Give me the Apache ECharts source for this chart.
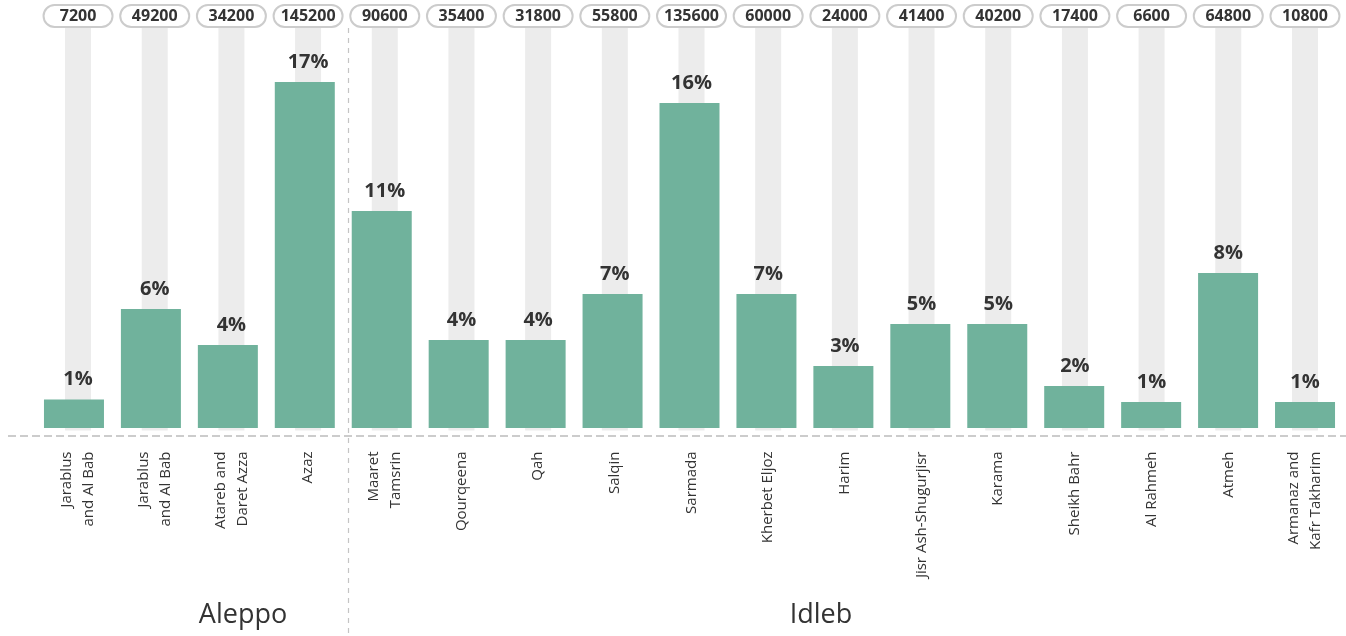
<!DOCTYPE html>
<html>
<head>
<meta charset="utf-8">
<title>Households by district</title>
<script src="https://cdn.jsdelivr.net/npm/echarts@6/dist/echarts.min.js"></script>
<style>
  html, body { margin: 0; padding: 0; background: #fff; }
  #chart { width: 1346px; height: 636px; }
</style>
</head>
<body>
<div id="chart"></div>
<script>
// District names (sub-districts of Aleppo and Idleb governorates)
const districts = [
  'Jarablus\nand Al Bab', 'Jarablus\nand Al Bab', 'Atareb and\nDaret Azza', 'Azaz',
  'Maaret\nTamsrin', 'Qourqeena', 'Qah', 'Salqin', 'Sarmada', 'Kherbet Eljoz',
  'Harim', 'Jisr Ash-Shugurjisr', 'Karama', 'Sheikh Bahr', 'Al Rahmeh', 'Atmeh',
  'Armanaz and\nKafr Takharim'
];

// Households counted per district (shown in the pills on top)
const households = [
  7200, 49200, 34200, 145200, 90600, 35400, 31800, 55800, 135600, 60000,
  24000, 41400, 40200, 17400, 6600, 64800, 10800
];

// Share of the total, in percent (bar heights; labels show them rounded)
const sharePct = [
  1.4, 5.85, 4.08, 17.0, 10.66, 4.32, 4.32, 6.58, 15.97, 6.58,
  3.05, 5.11, 5.11, 2.06, 1.28, 7.62, 1.28
];

// Governorate captions under the district names
const regions = ['Aleppo', 'Idleb'];

const GREEN = '#70b29c';
const TRACK = '#ececec';
const INK = '#333333';
const SANS = "'Open Sans', 'DejaVu Sans', sans-serif";

// Two grids: one for the green bars, one for the grey tracks,
// value labels, district names and household pills.
const Y_MAX = 20;
const gridBars = { left: 35.5, right: 2.5, top: 21, bottom: 208 };
const gridTracks = { left: 39.7, right: 2.7, top: 28, bottom: 205.5 };
const H = 636;
const pxPerPct = (H - gridBars.top - gridBars.bottom) / Y_MAX;
// Value axis of the track grid shares the scale and the zero line of the bar grid
const trackMin = -(gridBars.bottom - gridTracks.bottom) / pxPerPct;
const trackMax = trackMin + (H - gridTracks.top - gridTracks.bottom) / pxPerPct;

const chart = echarts.init(document.getElementById('chart'), null, { renderer: 'canvas' });

chart.setOption({
  animation: false,
  backgroundColor: '#ffffff',
  grid: [
    Object.assign({ containLabel: false }, gridBars),
    Object.assign({ containLabel: false }, gridTracks)
  ],
  xAxis: [
    {
      gridIndex: 0, type: 'category', data: districts, show: false
    },
    {
      gridIndex: 1, type: 'category', data: districts, position: 'bottom',
      axisLine: { show: false }, axisTick: { show: false },
      axisLabel: {
        interval: 0, rotate: 90, margin: 21,
        fontFamily: SANS, fontSize: 15, lineHeight: 22, color: INK
      }
    },
    {
      gridIndex: 1, type: 'category', data: households.map(String), position: 'top',
      axisLine: { show: false }, axisTick: { show: false },
      axisLabel: {
        interval: 0, margin: 2,
        fontFamily: SANS, fontWeight: 'bold', fontSize: 16, lineHeight: 16, color: INK,
        backgroundColor: '#ffffff', borderColor: '#cccccc', borderWidth: 2,
        borderRadius: 10, padding: [2, 3, 2, 3], width: 61, align: 'center'
      }
    }
  ],
  yAxis: [
    { gridIndex: 0, type: 'value', min: 0, max: Y_MAX, show: false },
    { gridIndex: 1, type: 'value', min: trackMin, max: trackMax, show: false }
  ],
  series: [
    {
      // grey tracks with the rounded percentage above each bar
      type: 'bar', xAxisIndex: 1, yAxisIndex: 1, z: 2,
      data: sharePct, barWidth: 26,
      showBackground: true,
      backgroundStyle: { color: TRACK },
      itemStyle: { color: 'rgba(0,0,0,0)' },
      label: {
        show: true, position: 'top', distance: 10,
        fontFamily: SANS, fontWeight: 'bold', fontSize: 20, color: INK,
        formatter: p => Math.round(p.value) + '%'
      },
      silent: true
    },
    {
      type: 'bar', xAxisIndex: 0, yAxisIndex: 0, z: 3,
      data: sharePct, barWidth: 60,
      itemStyle: { color: GREEN }
    }
  ],
  graphic: [
    {
      type: 'line', z: 1, silent: true,
      shape: { x1: 8, y1: 436, x2: 1346, y2: 436 },
      style: { stroke: '#cccccc', lineWidth: 2, lineDash: [8, 4] }
    },
    {
      type: 'line', z: 1, silent: true,
      shape: { x1: 348.5, y1: 28, x2: 348.5, y2: 636 },
      style: { stroke: '#c4c4c4', lineWidth: 1.2, lineDash: [5, 5] }
    },
    {
      type: 'text', x: 243, y: 615, silent: true,
      style: { text: regions[0], fontFamily: SANS, fontSize: 27, fill: INK, align: 'center', verticalAlign: 'middle' }
    },
    {
      type: 'text', x: 821, y: 615, silent: true,
      style: { text: regions[1], fontFamily: SANS, fontSize: 27, fill: INK, align: 'center', verticalAlign: 'middle' }
    }
  ]
});
</script>
</body>
</html>
